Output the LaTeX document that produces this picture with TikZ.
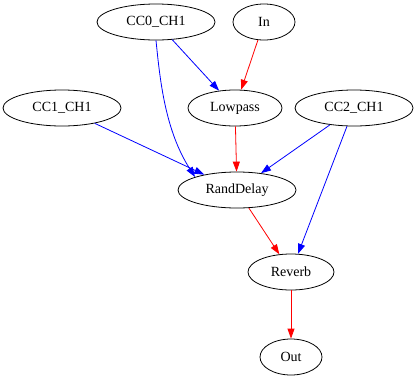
\documentclass[tikz,border=0pt]{standalone}
\usepackage{fontspec}
\setmainfont{Liberation Serif}
\usetikzlibrary{shapes.geometric,arrows.meta}
\begin{document}
\begin{tikzpicture}[x=1pt,y=-1pt,
  gnode/.style={draw,ellipse,line width=0.8pt,inner sep=0pt,minimum height=36pt,font=\fontsize{14}{16}\selectfont},
  garrow/.style={line width=0.8pt,-{Triangle[length=10pt,width=7pt]}},
  ctl/.style={garrow,blue},
  sig/.style={garrow,red}]
\useasboundingbox (0,0) rectangle (419,383);
\node[gnode,minimum width=118pt] (cc0) at (156,22) {CC0\_CH1};
\node[gnode,minimum width=62pt] (in) at (264,22) {In};
\node[gnode,minimum width=118pt] (cc1) at (62,108) {CC1\_CH1};
\node[gnode,minimum width=94pt] (lp) at (235,108) {Lowpass};
\node[gnode,minimum width=118pt] (cc2) at (354,108) {CC2\_CH1};
\node[gnode,minimum width=118pt] (rd) at (237,190) {RandDelay};
\node[gnode,minimum width=86pt] (rv) at (291,272) {Reverb};
\node[gnode,minimum width=62pt] (out) at (291,357) {Out};
\draw[ctl] (cc0) -- (lp);
\draw[ctl] (cc0.south) ++(0,0) .. controls (160,80) and (165,130) .. (rd.north west);
\draw[sig] (in) -- (lp);
\draw[sig] (lp) -- (rd);
\draw[ctl] (cc1) -- (rd);
\draw[ctl] (cc2) -- (rd);
\draw[ctl] (cc2) -- (rv);
\draw[sig] (rd) -- (rv);
\draw[sig] (rv) -- (out);
\end{tikzpicture}
\end{document}
